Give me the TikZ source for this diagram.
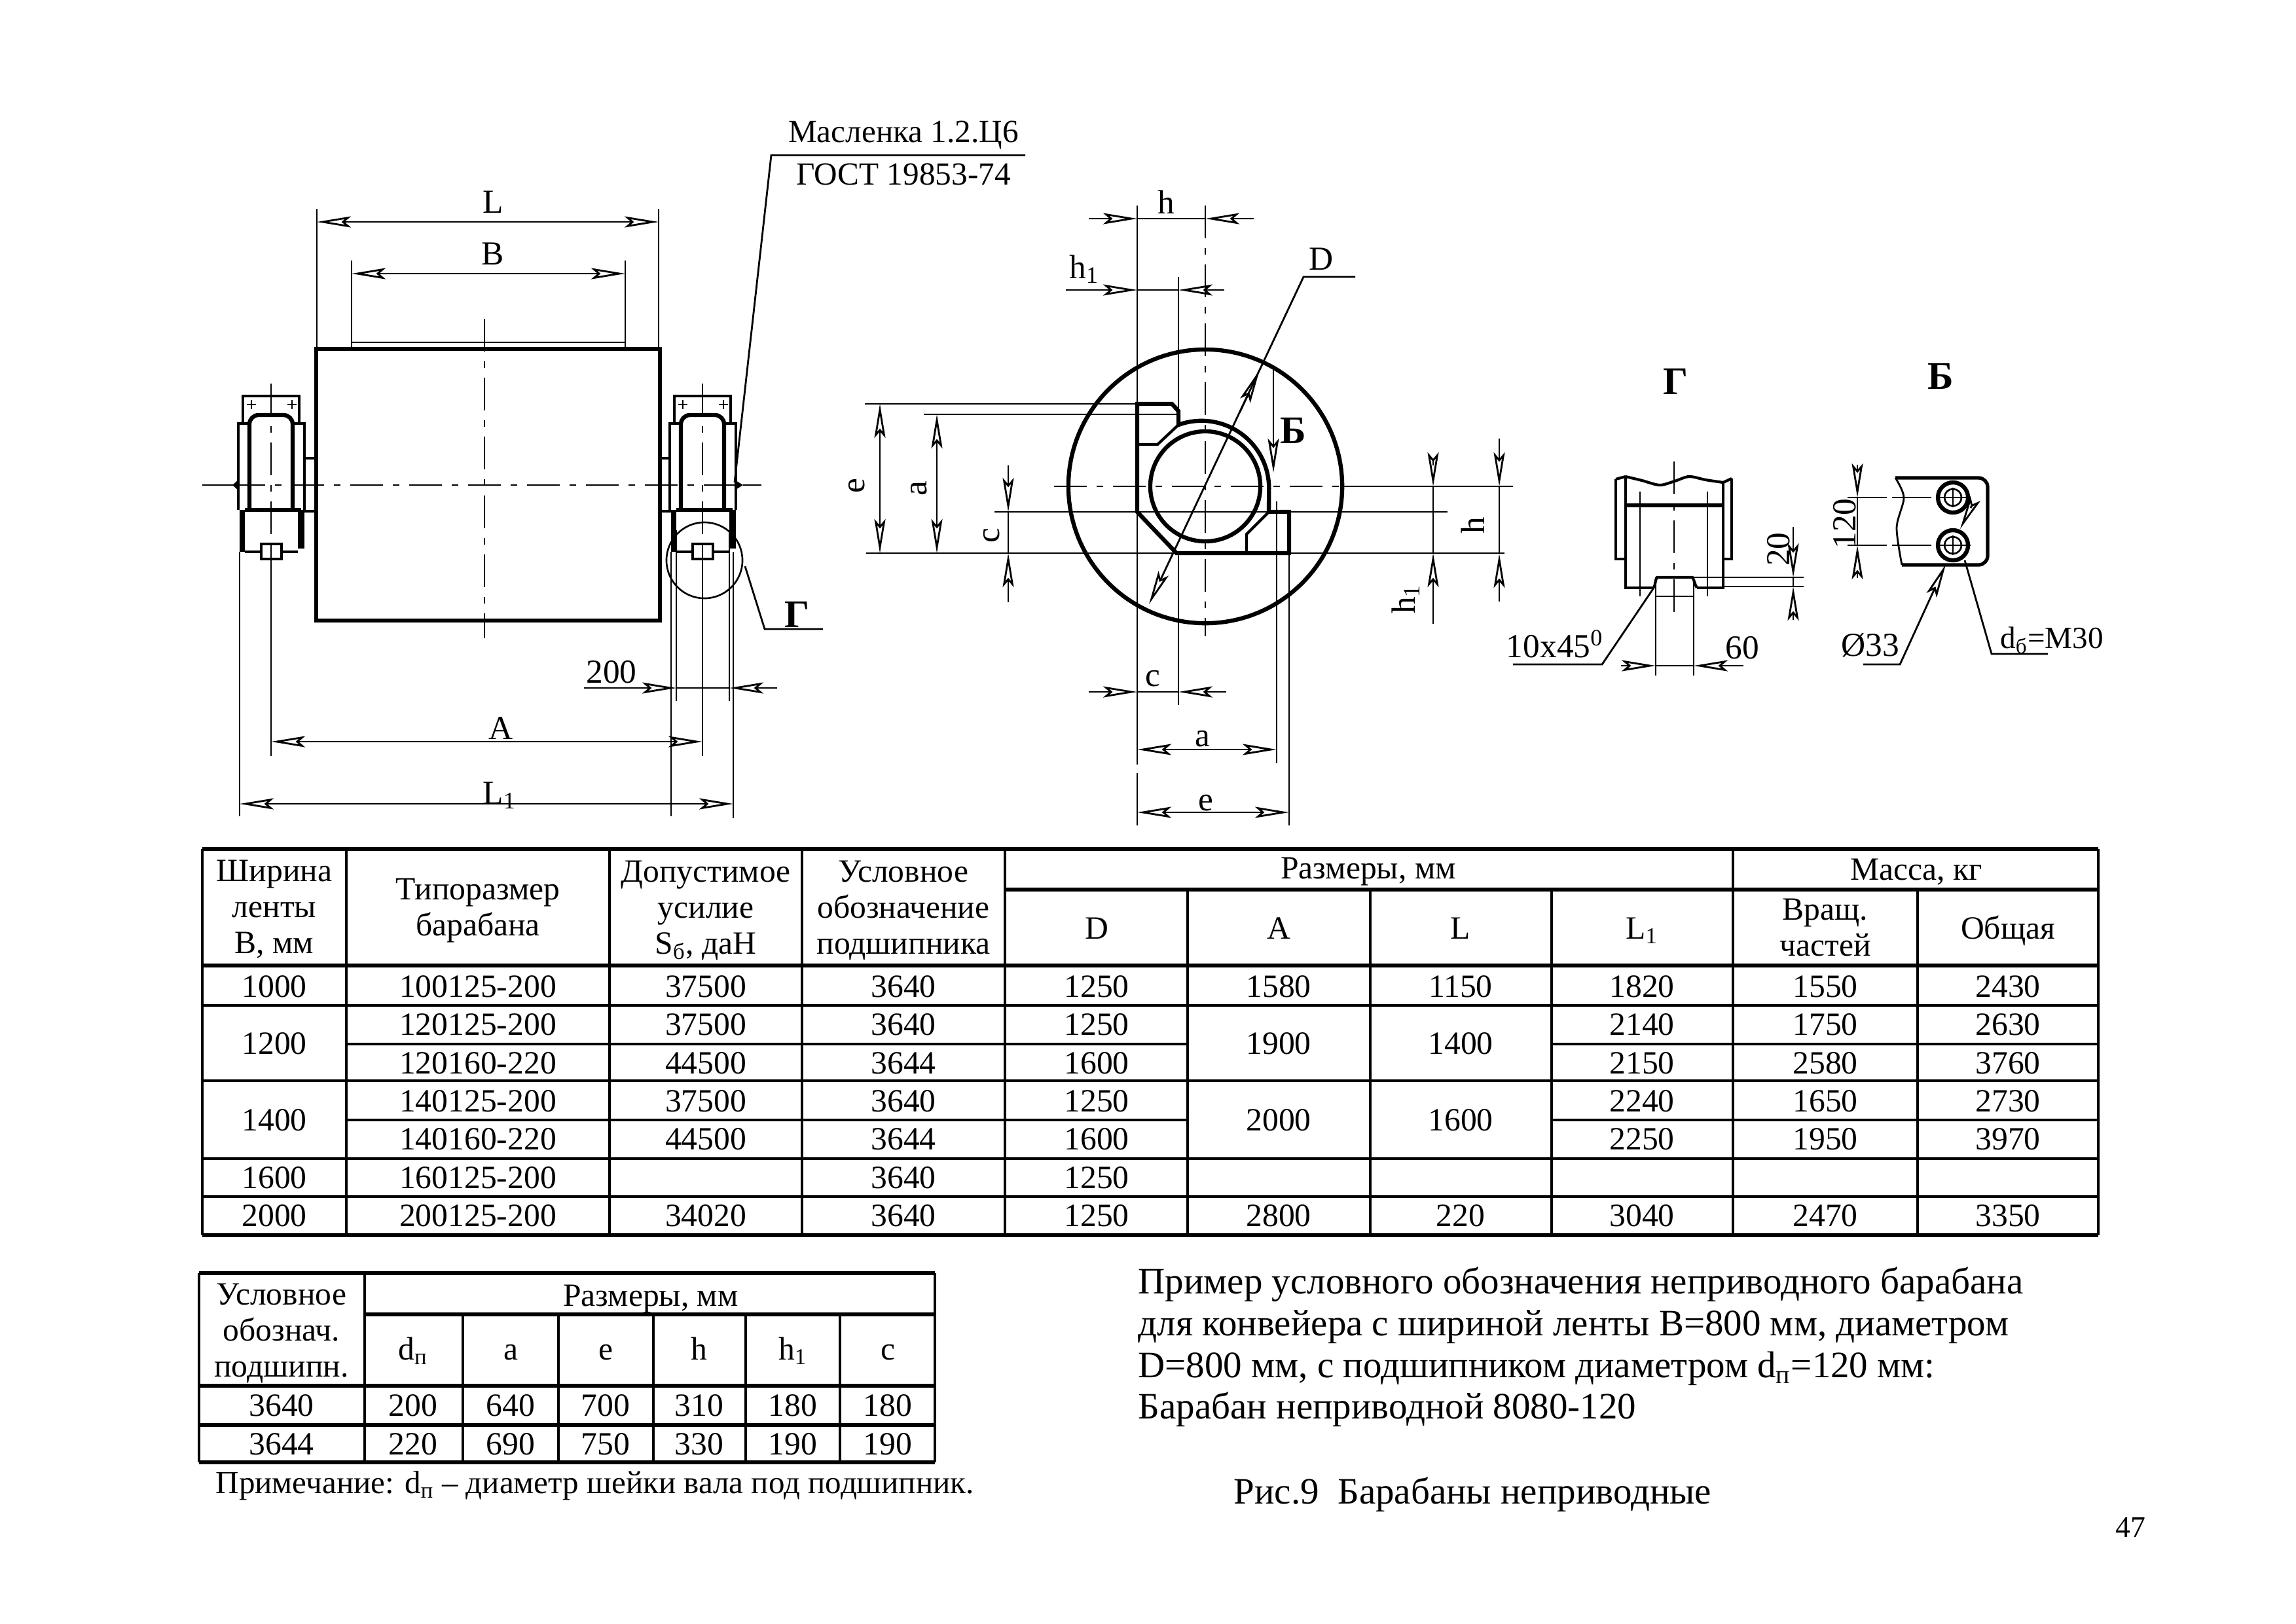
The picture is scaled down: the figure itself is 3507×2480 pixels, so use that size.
\documentclass[tikz,border=0pt]{standalone}
\usepackage{fontspec}
\setmainfont{Liberation Serif}
\usetikzlibrary{arrows.meta}
\newcommand{\smallcross}[2]{\draw[thinln] (#1-7,#2) -- (#1+7,#2) (#1,#2-7) -- (#1,#2+7);}
\newcommand{\tblrow}[3]{\foreach \cx/\cv [count=\k] in {#3} \node[tx] (#1\k) at (\cx,#2) {\cv};}
% one bearing block, drawn at the left drum end and shifted for the right one
\newcommand{\bearingblock}{
	\draw[midln] (371,649) -- (371,605) -- (457,605) -- (457,649);
	\smallcross{384}{618}
	\smallcross{446}{618}
	\draw[thickln,rounded corners=0.14cm] (381,779) -- (381,634) -- (447,634) -- (447,779);
	\draw[midln] (381,647) -- (364,647) -- (364,779);
	\draw[midln] (447,647) -- (465,647) -- (465,779);
	\draw[thickln] (374,779) -- (460,779);
	\fill (366,779) rectangle (374,843);
	\fill (455,779) rectangle (465,838);
	\draw[midln] (374,843) -- (399,843) (430,843) -- (455,843);
	\draw[midln] (399,831) rectangle (430,854);
	\draw[thinln] (366,843) -- (366,1247);
	\draw[axisln] (414,586) -- (414,831);
	\draw[thinln] (414,831) -- (414,1155);
}
\tikzset{
	thinln/.style={line width=0.75pt},
	midln/.style={line width=1.2pt},
	thickln/.style={line width=1.8pt},
	axisln/.style={line width=0.8pt,dash pattern=on 0.5cm off 0.15cm on 0.1cm off 0.15cm},
	dimln/.style={line width=0.8pt},
	tbllo/.style={line width=1.7pt},
	tblli/.style={line width=1.2pt},
	tx/.style={font=\fontsize{14.1}{15.7}\selectfont,inner sep=0pt,align=center},
	lbl/.style={font=\fontsize{14.6}{16}\selectfont,inner sep=0pt},
	boldlbl/.style={font=\fontsize{17}{18}\selectfont\bfseries,inner sep=0pt},
	para/.style={font=\fontsize{16.2}{18}\selectfont,inner sep=0pt,anchor=base west},
}
\begin{document}
\begin{tikzpicture}[x=0.01cm,y=-0.01cm,>={Stealth[open,length=0.52cm,width=0.17cm,inset=0.1cm]}]
	\useasboundingbox[fill=white] (0,0) rectangle (3507,2480);

	% drum, front view
	\draw[midln,line width=1.5pt] (483,533) rectangle (1008,948);
	\draw[thinln] (537,523) -- (955,523);
	\draw[axisln] (740,487) -- (740,975);
	\draw[thinln] (309,741) -- (355,741) (1135,741) -- (1163,741);
	\draw[axisln] (355,741) -- (1135,741);
	\draw[midln] (465,700) -- (483,700) (465,781) -- (483,781);
	\draw[midln] (1008,700) -- (1025,700) (1008,781) -- (1025,781);
	\bearingblock
	\begin{scope}[shift={(659,0)}]
		\bearingblock
	\end{scope}
	\fill (355,741) -- (364,733) -- (364,749) -- cycle;
	\fill (1135,741) -- (1122,733) -- (1122,749) -- cycle;
	\draw[thinln] (1076,856) circle[radius=0.58cm];

	% drum dimensions
	\draw[dimln] (484,319) -- (484,533) (1006,319) -- (1006,533);
	\draw[dimln,<->] (484,339) -- node(dimL)[lbl,yshift=0.3cm,xshift=0.08cm]{L} (1006,339);
	\draw[dimln] (537,398) -- (537,533) (955,398) -- (955,533);
	\draw[dimln,<->] (537,418) -- node(dimB)[lbl,yshift=0.3cm,xshift=0.07cm]{B} (955,418);
	\draw[dimln] (1033,810) -- (1033,1071) (1114,810) -- (1114,1071);
	\draw[dimln] (1033,1051) -- (1114,1051);
	\draw[dimln,->] (892,1051) -- (1033,1051);
	\draw[dimln,->] (1187,1051) -- (1114,1051);
	\node[lbl] (dim200) at (934,1027) {200};
	\draw[dimln,<->] (414,1133) -- node(dimA)[lbl,yshift=0.2cm,xshift=0.22cm]{A} (1073,1133);
	\draw[dimln] (1120,843) -- (1120,1250);
	\draw[dimln,<->] (366,1228) -- node(dimLa)[lbl,yshift=0.13cm,xshift=0.2cm]{L\textsubscript{1}} (1120,1228);
	\draw[dimln] (1122,737) -- (1178,237) -- (1566,237);
	\node[lbl,font=\fontsize{14}{16}\selectfont] (oiler) at (1380,206) {Масленка 1.2.Ц6};
	\node[lbl,font=\fontsize{14}{16}\selectfont] (oilerb) at (1380,266) {ГОСТ 19853-74};
	\draw[dimln] (1138,865) -- (1168,961) -- (1257,961);
	\node[boldlbl] (viewG) at (1217,939) {Г};

	% drum, side view
	\draw[thickln] (1841,743) circle[radius=2.09cm];
	\draw[thickln] (1841,743) circle[radius=0.84cm];
	\draw[thickln] (1737,617) -- (1790,617) -- (1800,628) -- (1800,649)
		arc[start angle=110,end angle=0,radius=1.03cm] -- (1938,782) -- (1969,782)
		-- (1969,845) -- (1797,845) -- (1737,782) -- cycle;
	\draw[midln] (1737,679) -- (1768,679) -- (1800,649);
	\draw[midln] (1904,845) -- (1904,816) -- (1938,782);
	\draw[axisln] (1610,743) -- (2052,743);
	\draw[dimln] (2052,743) -- (2311,743);
	\draw[axisln] (1841,314) -- (1841,972);

	% side view dimensions
	\draw[dimln] (1737,314) -- (1737,1168) (1737,1181) -- (1737,1261);
	\draw[dimln] (1800,423) -- (1800,649) (1800,845) -- (1800,1077);
	\draw[dimln] (1950,766) -- (1950,1166) (1969,845) -- (1969,1261);
	\draw[dimln] (1321,617) -- (1737,617) (1411,633) -- (1800,633);
	\draw[dimln] (1519,782) -- (2211,782) (1323,845) -- (2298,845);
	\draw[dimln,<->] (1344,617) -- (1344,845);
	\node[lbl,rotate=90] (sideEl) at (1309,742) {e};
	\draw[dimln,<->] (1431,633) -- (1431,845);
	\node[lbl,rotate=90] (sideAl) at (1404,746) {a};
	\draw[dimln] (1540,782) -- (1540,845);
	\draw[dimln,->] (1540,711) -- (1540,782);
	\draw[dimln,->] (1540,920) -- (1540,845);
	\node[lbl,rotate=90] (sideCl) at (1515,818) {c};
	\draw[dimln] (2189,743) -- (2189,845);
	\draw[dimln,->] (2189,711) -- (2189,743);
	\draw[dimln,->] (2189,953) -- (2189,845);
	\draw[dimln] (2290,743) -- (2290,846);
	\draw[dimln,->] (2290,670) -- (2290,743);
	\draw[dimln,->] (2290,919) -- (2290,846);
	\node[lbl,rotate=90] (sideHr) at (2250,803) {h};
	\node[lbl,rotate=90] (sideHa) at (2147,915) {h\textsubscript{1}};
	\draw[dimln] (1737,334) -- (1841,334);
	\draw[dimln,->] (1663,334) -- (1737,334);
	\draw[dimln,->] (1915,334) -- (1841,334);
	\node[lbl] (sideH) at (1781,309) {h};
	\draw[dimln] (1737,443) -- (1800,443);
	\draw[dimln,->] (1628,443) -- (1737,443);
	\draw[dimln,->] (1870,443) -- (1800,443);
	\node[lbl] (sideHb) at (1656,411) {h\textsubscript{1}};
	\draw[dimln] (1737,1057) -- (1800,1057);
	\draw[dimln,->] (1663,1057) -- (1737,1057);
	\draw[dimln,->] (1873,1057) -- (1800,1057);
	\node[lbl] (sideC) at (1761,1037) {c};
	\draw[dimln,<->] (1737,1145) -- (1950,1145);
	\node[lbl] (sideA) at (1837,1129) {a};
	\draw[dimln,<->] (1737,1241) -- (1969,1241);
	\node[lbl] (sideE) at (1842,1227) {e};
	\draw[dimln,<-] (1755,923) -- (1991,423) -- (2070,423);
	\draw[dimln,->] (1894,629) -- (1924,565);
	\node[lbl] (sideD) at (2018,396) {D};
	\draw[dimln,->] (1945,561) -- (1945,722);
	\node[boldlbl] (arrB) at (1975,658) {Б};

	% detail G
	\node[boldlbl] (titleG) at (2559,583) {Г};
	\draw[midln] plot[smooth] coordinates {(2483,728) (2508,734) (2535,741) (2558,735) (2580,728) (2605,733) (2632,737)};
	\draw[midln] (2468,732) -- (2483,728) (2632,737) -- (2645,731);
	\draw[midln] (2468,732) -- (2468,854) -- (2483,854);
	\draw[midln] (2645,731) -- (2645,854) -- (2632,854);
	\draw[midln] (2526,898) -- (2483,898) -- (2483,728);
	\draw[midln] (2592,898) -- (2632,898) -- (2632,737);
	\draw[midln,line width=1.5pt] (2483,772) -- (2632,772);
	\draw[dimln] (2505,751) -- (2505,911) (2608,751) -- (2608,911);
	\draw[axisln] (2557,705) -- (2557,936);
	\draw[midln] (2526,898) .. controls (2529,892) and (2528,886) .. (2531,882) -- (2585,882) .. controls (2588,886) and (2588,892) .. (2592,898);
	\draw[dimln] (2529,882) -- (2529,1032) (2587,882) -- (2587,1032);
	\draw[dimln] (2529,911) -- (2587,911);
	\draw[dimln] (2586,882) -- (2755,882) (2632,896) -- (2755,896);
	\draw[dimln] (2739,882) -- (2739,896);
	\draw[dimln,->] (2739,805) -- (2739,882);
	\draw[dimln,->] (2739,947) -- (2739,896);
	\node[lbl,rotate=90] (detail20) at (2717,839) {20};
	\draw[dimln] (2529,1017) -- (2587,1017);
	\draw[dimln,->] (2476,1017) -- (2529,1017);
	\draw[dimln,->] (2663,1017) -- (2587,1017);
	\node[lbl] (detail60) at (2661,990) {60};
	\draw[dimln] (2526,898) -- (2447,1015) -- (2311,1015);
	\node[lbl] (chamfer) at (2375,984) {10x45\textsuperscript{0}};

	% detail B
	\node[boldlbl] (titleB) at (2964,575) {Б};
	\draw[midln,line width=1.5pt,rounded corners=0.14cm] (2895,730) -- (3036,730) -- (3036,863) -- (2905,863);
	\draw[dimln] plot[smooth] coordinates {(2895,730) (2908,760) (2897,806) (2905,863)};
	\foreach \hy/\hn in {760/holeA,833/holeB}{
		\node[circle,draw,thickln,minimum size=0.46cm,inner sep=0pt] (\hn) at (2983,\hy) {};
		\node[circle,draw,thinln,minimum size=0.26cm,inner sep=0pt] (\hn i) at (2983,\hy) {};
		\draw[axisln,dash pattern=on 0.6cm off 0.08cm] (2822,\hy) -- (3010,\hy);
		\draw[dimln] (2983,\hy-15) -- (2983,\hy+15);
	}
	\draw[dimln,->] (2837,710) -- (2837,760);
	\draw[dimln,->] (2837,883) -- (2837,833);
	\draw[dimln] (2837,760) -- (2837,833);
	\node[lbl,rotate=90] (detail120) at (2818,800) {120};
	\draw[dimln,->] (2846,1015) -- (2902,1015) -- (2972,862);
	\draw[dimln,->] (3010,776) -- (2994,808);
	\node[lbl] (detail33) at (2857,986) {Ø33};
	\draw[dimln] (3001,856) -- (3042,999) -- (3128,999);
	\node[lbl,font=\fontsize{13.4}{16}\selectfont] (detailM) at (3134,978) {d\textsubscript{б}=M30};

	% main table, lines
	\foreach \x in {309,529,931,1225,1535,2647,3205}
		\draw[tblli] (\x,1297) -- (\x,1887);
	\foreach \x in {1814,2093,2370,2929}
		\draw[tblli] (\x,1359) -- (\x,1887);
	\foreach \y in {1297,1475,1887}
		\draw[tbllo] (309,\y) -- (3205,\y);
	\foreach \y in {1536,1651,1770,1828}
		\draw[tblli] (309,\y) -- (3205,\y);
	\draw[tbllo] (1535,1359) -- (3205,1359);
	\foreach \y in {1595,1711}
		\draw[tblli] (529,\y) -- (1814,\y) (2370,\y) -- (3205,\y);

	% main table, head
	\node[tx] (headA) at (419,1389) {Ширина\\ленты\\В, мм};
	\node[tx] (headB) at (730,1391) {Типоразмер\\барабана};
	\node[tx] (headC) at (1078,1391) {Допустимое\\усилие\\S\textsubscript{б}, даН};
	\node[tx] (headD) at (1380,1391) {Условное\\обозначение\\подшипника};
	\node[tx] (headS) at (2090,1332) {Размеры, мм};
	\node[tx] (headM) at (2927,1332) {Масса, кг};
	\foreach \hx/\hn/\htx in {1675/hD/D,1953/hA/A,2231/hL/L,2508/hLa/L\textsubscript{1},3067/hO/Общая}
		\node[tx,anchor=base] (\hn) at (\hx,1434) {\htx};
	\node[tx] (hV) at (2788,1417) {Вращ.\\частей};

	% main table, values
	\tblrow{ra}{1507}{419/1000,730/100125-200,1078/37500,1380/3640,1675/1250,1953/1580,2231/1150,2508/1820,2788/1550,3067/2430}
	\tblrow{rb}{1565}{730/120125-200,1078/37500,1380/3640,1675/1250,2508/2140,2788/1750,3067/2630}
	\tblrow{rc}{1624}{730/120160-220,1078/44500,1380/3644,1675/1600,2508/2150,2788/2580,3067/3760}
	\tblrow{rd}{1682}{730/140125-200,1078/37500,1380/3640,1675/1250,2508/2240,2788/1650,3067/2730}
	\tblrow{re}{1740}{730/140160-220,1078/44500,1380/3644,1675/1600,2508/2250,2788/1950,3067/3970}
	\tblrow{rf}{1799}{419/1600,730/160125-200,1380/3640,1675/1250}
	\tblrow{rg}{1857}{419/2000,730/200125-200,1078/34020,1380/3640,1675/1250,1953/2800,2231/220,2508/3040,2788/2470,3067/3350}
	\tblrow{rh}{1594}{419/1200,1953/1900,2231/1400}
	\tblrow{ri}{1711}{419/1400,1953/2000,2231/1600}

	% bearing table
	\foreach \x in {304,557,1428}
		\draw[tblli] (\x,1945) -- (\x,2234);
	\foreach \x in {707,853,998,1139,1283}
		\draw[tblli] (\x,2008) -- (\x,2234);
	\foreach \y in {1945,2117,2177,2234}
		\draw[tbllo] (304,\y) -- (1428,\y);
	\draw[tbllo] (557,2008) -- (1428,2008);
	\node[tx] (bhA) at (430,2037) {Условное\\обознач.\\подшипн.};
	\node[tx] (bhS) at (994,1984) {Размеры, мм};
	\foreach \cx/\cn/\ca/\cb/\cc in {631/d/d\textsubscript{п}/200/220,780/a/a/640/690,925/e/e/700/750,1068/h/h/310/330,1211/k/h\textsubscript{1}/180/190,1356/c/c/180/190}{
		\node[tx,anchor=base] (bh\cn) at (\cx,2077) {\ca};
		\node[tx] (bm\cn) at (\cx,2147) {\cb};
		\node[tx] (bn\cn) at (\cx,2206) {\cc};
	}
	\node[tx] (bmL) at (430,2147) {3640};
	\node[tx] (bnL) at (430,2206) {3644};
	\node[para,font=\fontsize{13.95}{16}\selectfont] (notea) at (329,2281) {Примечание: d\textsubscript{п} – диаметр шейки вала под подшипник.};

	% text at the lower right
	\node[para] (paraa) at (1738,1976) {Пример условного обозначения неприводного барабана};
	\node[para] (parab) at (1738,2040) {для конвейера с шириной ленты В=800 мм, диаметром};
	\node[para] (parac) at (1738,2104) {D=800 мм, с подшипником диаметром d\textsubscript{п}=120 мм:};
	\node[para] (parad) at (1738,2167) {Барабан неприводной 8080-120};
	\node[para] (caption) at (1884,2297) {Рис.9\ \ Барабаны неприводные};
	\node[para,font=\fontsize{13}{14}\selectfont] (pagenum) at (3231,2348) {47};
\end{tikzpicture}
\end{document}
